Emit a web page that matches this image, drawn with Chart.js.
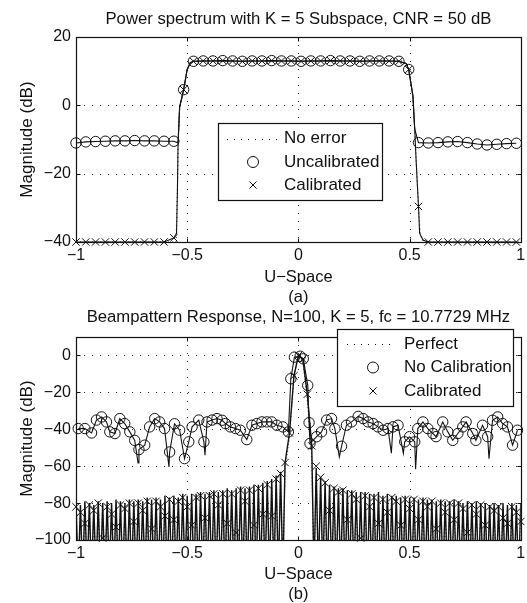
<!DOCTYPE html>
<html lang="en">
<head>
<meta charset="UTF-8">
<title>Power spectrum and beampattern</title>
<style>
  html, body { margin: 0; padding: 0; background: #fff; overflow: hidden; }
  #wrap { position: relative; width: 527px; height: 603px; }
  #top, #bottom { position: absolute; left: 0; }
  #top { top: 0; }
  #bottom { top: 303px; }
</style>
</head>
<body>
<div id="wrap">
  <canvas id="top" width="527" height="307"></canvas>
  <canvas id="bottom" width="527" height="303"></canvas>
</div>
<script src="https://cdn.jsdelivr.net/npm/chart.js"></script>
<script>
// ---------- panel (a): power spectrum ----------
const specU = [-1.000, -0.956, -0.912, -0.868, -0.824, -0.780, -0.736, -0.692, -0.648, -0.604,
  -0.560, -0.516, -0.472, -0.428, -0.384, -0.340, -0.296, -0.252, -0.208, -0.164, -0.120, -0.076,
  -0.032, 0.012, 0.056, 0.100, 0.144, 0.188, 0.232, 0.276, 0.320, 0.364, 0.408, 0.452, 0.496,
  0.540, 0.584, 0.628, 0.672, 0.716, 0.760, 0.804, 0.848, 0.892, 0.936, 0.980];
const uncalSpecDb = [-11.0, -10.7, -10.6, -10.5, -10.4, -10.4, -10.3, -10.4, -10.4, -10.5,
  -10.5, 4.6, 12.9, 13.0, 13.0, 13.1, 13.0, 12.9, 13.0, 13.0, 13.1, 13.0, 13.0, 12.9, 13.0,
  13.0, 13.1, 13.0, 13.0, 12.9, 13.0, 13.0, 13.0, 12.9, 10.5,
  -10.9, -11.0, -10.9, -10.7, -10.6, -10.9, -11.3, -11.6, -11.4, -11.2, -11.1];
const calSpecDb = [-40, -40, -40, -40, -40, -40, -40, -40, -40, -40,
  -38.8, 4.6, 12.9, 13.0, 13.0, 13.1, 13.0, 12.9, 13.0, 13.0, 13.1, 13.0, 13.0, 12.9, 13.0,
  13.0, 13.1, 13.0, 13.0, 12.9, 13.0, 13.0, 13.0, 12.9, 10.5,
  -29.6, -40, -40, -40, -40, -40, -40, -40, -40, -40, -40];
// steep band edges of the solid curve
const leftEdgeU = [-0.548, -0.544, -0.541, -0.534, -0.516, -0.500, -0.486];
const leftEdgeDb = [-37.5, -25, -11, -0.5, 4.6, 10.5, 12.5];
const rightEdgeU = [0.485, 0.496, 0.515, 0.523, 0.530, 0.540, 0.545, 0.560];
const rightEdgeDb = [12.2, 10.5, 2.7, -7, -17, -29.6, -37.4, -39.4];
const noErrU = [-1, -0.55, -0.544, -0.541, -0.534, -0.516, -0.5, -0.486, -0.47, 0.47, 0.485,
  0.496, 0.515, 0.523, 0.53, 0.54, 0.548, 0.565, 1];
const noErrDb = [-40, -40, -25, -11, -0.5, 4.6, 10.5, 12.5, 13, 13, 12.2, 10.5, 2.7, -7, -17,
  -29.6, -38, -40, -40];
const specXTicks = [-1, -0.5, 0, 0.5, 1];
const specYTicks = [-40, -20, 0, 20];

// ---------- panel (b): beampattern ----------
const beamU = [-1.00, -0.98, -0.96, -0.94, -0.92, -0.90, -0.88, -0.86, -0.84, -0.82, -0.80, -0.78,
  -0.76, -0.74, -0.72, -0.70, -0.68, -0.66, -0.64, -0.62, -0.60, -0.58, -0.56, -0.54, -0.52, -0.50,
  -0.48, -0.46, -0.44, -0.42, -0.40, -0.38, -0.36, -0.34, -0.32, -0.30, -0.28, -0.26, -0.24, -0.22,
  -0.20, -0.18, -0.16, -0.14, -0.12, -0.10, -0.08, -0.06, -0.04, -0.02, 0, 0.02, 0.04, 0.06, 0.08,
  0.10, 0.12, 0.14, 0.16, 0.18, 0.20, 0.22, 0.24, 0.26, 0.28, 0.30, 0.32, 0.34, 0.36, 0.38, 0.40,
  0.42, 0.44, 0.46, 0.48, 0.50, 0.52, 0.54, 0.56, 0.58, 0.60, 0.62, 0.64, 0.66, 0.68, 0.70, 0.72,
  0.74, 0.76, 0.78, 0.80, 0.82, 0.84, 0.86, 0.88, 0.90, 0.92, 0.94, 0.96, 0.98, 1.00];
// sidelobe tops of the calibrated response
const calPeakDb = [-80, -81, -79, -80, -81, -79, -80, -79, -80, -78,
  -79, -80, -78, -79, -78, -79, -77, -78, -77, -78,
  -76, -77, -76, -77, -75, -76, -75, -75, -74, -75,
  -74, -73, -74, -73, -72, -73, -72, -71, -72, -71,
  -70, -70, -69, -68, -67, -65, -63, -58, -42, -11,
  0,
  -2, -21, -49, -61, -66, -68, -70, -71, -72, -72,
  -73, -73, -74, -74, -74, -75, -75, -74, -76, -75,
  -76, -76, -77, -76, -77, -77, -78, -77, -78, -78,
  -79, -78, -79, -79, -78, -79, -80, -79, -80, -79,
  -80, -80, -81, -80, -81, -80, -81, -80, -81, -80];
// calibrated markers (x)
const calDb = [-82, -85, -91, -81, -84, -80, -99, -82, -86, -93,
  -81, -83, -80, -90, -80, -84, -79, -94, -79, -82,
  -87, -78, -89, -79, -77, -82, -92, -77, -76, -88,
  -76, -75, -81, -75, -91, -75, -96, -73, -79, -73,
  -92, -72, -86, -70, -87, -67, -64, -58, -42, -11,
  0,
  -2, -21, -49, -60, -66, -69, -84, -72, -74, -73,
  -89, -75, -78, -99, -76, -82, -77, -91, -78, -85,
  -77, -79, -92, -78, -83, -78, -89, -79, -82, -79,
  -94, -80, -85, -80, -89, -80, -83, -96, -81, -86,
  -81, -92, -82, -84, -82, -88, -91, -82, -85, -90];
const perfectPeakDb = [-83, -84, -82, -83, -84, -82, -83, -82, -83, -81,
  -82, -83, -81, -82, -81, -82, -80, -81, -80, -81,
  -79, -80, -79, -80, -78, -79, -78, -78, -77, -78,
  -77, -76, -77, -76, -75, -76, -75, -74, -75, -74,
  -73, -73, -72, -71, -70, -68, -66, -62, -44, -11,
  0,
  -3, -24, -55, -64, -69, -71, -73, -74, -75, -75,
  -76, -76, -77, -77, -77, -78, -78, -77, -79, -78,
  -79, -79, -80, -79, -80, -80, -81, -80, -81, -81,
  -82, -81, -82, -82, -81, -82, -83, -82, -83, -82,
  -83, -83, -84, -83, -84, -83, -84, -83, -84, -83];
const NULL_DB = -120; // depth of the pattern nulls, below the axis
// uncalibrated markers (o)
const noCalU = [-0.990, -0.960, -0.930, -0.908, -0.885, -0.863, -0.848, -0.825, -0.803, -0.781,
  -0.758, -0.736, -0.717, -0.691, -0.669, -0.646, -0.624, -0.602, -0.579, -0.557, -0.534, -0.512,
  -0.493, -0.478, -0.448, -0.425, -0.411, -0.388, -0.366, -0.343, -0.328, -0.306, -0.283, -0.261,
  -0.232, -0.209, -0.187, -0.164, -0.142, -0.120, -0.097, -0.070, -0.045, -0.034, -0.018, 0.008,
  0.022, 0.042, 0.048, 0.052, 0.082, 0.104, 0.127, 0.149, 0.164, 0.194, 0.216, 0.239, 0.269,
  0.291, 0.313, 0.336, 0.358, 0.381, 0.403, 0.425, 0.448, 0.478, 0.500, 0.523, 0.537, 0.560,
  0.582, 0.605, 0.619, 0.649, 0.672, 0.694, 0.717, 0.739, 0.754, 0.784, 0.798, 0.828, 0.851,
  0.873, 0.896, 0.918, 0.940, 0.963, 0.985];
const noCalDb = [-39.6, -39.6, -42.0, -35.0, -33.3, -36.0, -41.4, -42.3, -34.2, -36.9,
  -41.4, -46.0, -51.0, -48.6, -38.7, -34.2, -36.0, -39.6, -52.3, -37.0, -40.5, -55.9,
  -46.8, -38.7, -35.0, -46.8, -36.0, -35.0, -34.2, -35.1, -36.9, -38.7, -39.6, -40.5,
  -45.6, -37.8, -36.9, -36.0, -36.0, -36.0, -37.8, -38.7, -41.4, -12.6, -0.9, -0.4,
  -1.8, -16.2, -36.4, -47.7, -44.0, -41.4, -35.0, -34.2, -39.6, -49.2, -37.8, -36.0, -33.0,
  -34.2, -36.0, -36.9, -38.7, -40.5, -39.6, -38.7, -37.8, -46.8, -44.0, -46.8, -39.6, -36.0,
  -39.6, -42.3, -44.0, -36.0, -41.4, -46.0, -42.3, -38.7, -36.0, -42.3, -46.0, -37.8, -44.0,
  -35.1, -33.3, -36.9, -38.7, -48.6, -40.5];
// narrow dips of the uncalibrated curve between markers
const noCalDipU = [-0.721, -0.582, -0.420, 0.184, 0.418, 0.472, 0.527, 0.857];
const noCalDipDb = [-58.2, -60.4, -54.0, -55.0, -53.0, -53.0, -61.6, -55.9];
const beamXTicks = [-1, -0.5, 0, 0.5, 1];
const beamYTicks = [-100, -80, -60, -40, -20, 0];

const INK = '#111';
const FONT = "'Liberation Sans', Arial, Helvetica, sans-serif";
Chart.defaults.font.family = FONT;
Chart.defaults.color = INK;

const minus = v => (v < 0 ? '\u2212' : '') + Math.abs(v);
const xy = (us, ds) => us.map((u, i) => ({x: u, y: ds[i]}));

// marker line + the steep edges, for one series of panel (a)
function spectrumLine(markDb) {
  const lo = markDb[0] - 1, hi = markDb[markDb.length - 1] - 1;
  const pts = xy(specU, markDb);
  leftEdgeU.forEach((u, i) => { if (leftEdgeDb[i] >= lo) pts.push({x: u, y: leftEdgeDb[i]}); });
  rightEdgeU.forEach((u, i) => { if (rightEdgeDb[i] >= hi) pts.push({x: u, y: rightEdgeDb[i]}); });
  return pts.sort((a, b) => a.x - b.x);
}

// sidelobes with a null between neighbouring samples
function combLine(peakDb) {
  const pts = [];
  beamU.forEach((u, i) => {
    pts.push({x: u, y: peakDb[i]});
    const next = beamU[i + 1];
    if (next !== undefined && Math.abs(u) >= 0.06 && Math.abs(next) >= 0.06) {
      pts.push({x: (u + next) / 2, y: NULL_DB});
    }
  });
  return pts;
}

const noCalLine = xy(noCalU, noCalDb).concat(xy(noCalDipU, noCalDipDb)).sort((a, b) => a.x - b.x);

const matlabAxes = {
  id: 'matlabAxes',
  beforeDatasetsDraw(chart) {
    const {ctx, chartArea: a, scales: {x, y}} = chart;
    ctx.save();
    ctx.strokeStyle = '#2a2a2a';
    ctx.lineWidth = 1;
    ctx.setLineDash([1, 7]);
    ctx.beginPath();
    x.ticks.forEach(t => {
      if (t.value <= x.min || t.value >= x.max) return;
      const px = Math.round(x.getPixelForValue(t.value)) + 0.5;
      ctx.moveTo(px, a.top); ctx.lineTo(px, a.bottom);
    });
    y.ticks.forEach(t => {
      if (t.value <= y.min || t.value >= y.max) return;
      const py = Math.round(y.getPixelForValue(t.value)) + 0.5;
      ctx.moveTo(a.left, py); ctx.lineTo(a.right, py);
    });
    ctx.stroke();
    ctx.restore();
  },
  afterDatasetsDraw(chart) {
    const {ctx, chartArea: a, scales: {x, y}} = chart;
    const l = Math.round(a.left) + 0.5, r = Math.round(a.right) + 0.5;
    const t = Math.round(a.top) + 0.5, b = Math.round(a.bottom) + 0.5;
    ctx.save();
    ctx.strokeStyle = INK;
    ctx.lineWidth = 1.2;
    ctx.strokeRect(l, t, r - l, b - t);
    ctx.lineWidth = 1;
    ctx.beginPath();
    x.ticks.forEach(tk => {
      const px = Math.round(x.getPixelForValue(tk.value)) + 0.5;
      ctx.moveTo(px, b); ctx.lineTo(px, b - 4);
      ctx.moveTo(px, t); ctx.lineTo(px, t + 4);
    });
    y.ticks.forEach(tk => {
      const py = Math.round(y.getPixelForValue(tk.value)) + 0.5;
      ctx.moveTo(l, py); ctx.lineTo(l + 4, py);
      ctx.moveTo(r, py); ctx.lineTo(r - 4, py);
    });
    ctx.stroke();
    ctx.restore();
  },
  afterDraw(chart, args, opts) {
    const L = opts.legend;
    if (!L) return;
    const {ctx} = chart;
    ctx.save();
    ctx.fillStyle = '#fff';
    ctx.fillRect(L.left, L.top, L.width, L.height);
    ctx.strokeStyle = INK;
    ctx.lineWidth = 1.2;
    ctx.strokeRect(L.left + 0.5, L.top + 0.5, L.width, L.height);
    ctx.font = '17px ' + FONT;
    ctx.textBaseline = 'middle';
    ctx.fillStyle = INK;
    L.rows.forEach((row, i) => {
      const yy = L.rowY[i];
      ctx.lineWidth = 1;
      ctx.beginPath();
      if (row.mark === 'dotted') {
        ctx.setLineDash([1, 6]);
        ctx.moveTo(L.lineX0, Math.round(yy) + 0.5);
        ctx.lineTo(L.lineX1, Math.round(yy) + 0.5);
      } else if (row.mark === 'circle') {
        ctx.setLineDash([]);
        ctx.arc(L.markX, yy, 5.5, 0, Math.PI * 2);
      } else {
        ctx.setLineDash([]);
        ctx.moveTo(L.markX - 3.5, yy - 3.5); ctx.lineTo(L.markX + 3.5, yy + 3.5);
        ctx.moveTo(L.markX - 3.5, yy + 3.5); ctx.lineTo(L.markX + 3.5, yy - 3.5);
      }
      ctx.stroke();
      ctx.fillText(row.text, L.textX, yy);
    });
    ctx.restore();
  }
};

const markers = (pts, style, label) => ({
  label, data: pts, showLine: false, clip: false,
  pointStyle: style, pointRadius: style === 'circle' ? 5.2 : 5.2, pointHoverRadius: 0,
  pointBorderWidth: 1, pointBorderColor: INK, pointBackgroundColor: 'rgba(0,0,0,0)'
});
const curve = (pts, label, dash, width) => ({
  label, data: pts, showLine: true, pointRadius: 0, pointHoverRadius: 0,
  borderColor: dash ? '#333' : INK, borderWidth: width || 1.1, borderDash: dash || [], tension: 0
});

function axes(xTicks, yTicks, yMin, yMax, xTitle, xHeight, xTitlePad) {
  return {
    x: {
      type: 'linear', min: -1, max: 1,
      afterBuildTicks: s => { s.ticks = xTicks.map(v => ({value: v})); },
      afterFit: s => { s.height = xHeight; s.paddingLeft = 0; s.paddingRight = 0; },
      grid: {display: false, drawTicks: false},
      border: {display: false},
      ticks: {padding: 4, font: {size: 16}, color: INK, callback: minus, maxRotation: 0, autoSkip: false},
      title: {display: true, text: xTitle, color: INK, font: {size: 16.5, lineHeight: 1.2},
        padding: {top: 0, bottom: xTitlePad}}
    },
    y: {
      type: 'linear', min: yMin, max: yMax,
      afterBuildTicks: s => { s.ticks = yTicks.map(v => ({value: v})); },
      afterFit: s => { s.width = 76; },
      grid: {display: false, drawTicks: false},
      border: {display: false},
      ticks: {padding: 5, font: {size: 16}, color: INK, callback: minus, autoSkip: false},
      title: {display: true, text: 'Magnitude (dB)', color: INK, font: {size: 17, lineHeight: 1.2},
        padding: {top: 17, bottom: 0}}
    }
  };
}

new Chart(document.getElementById('top'), {
  type: 'scatter',
  data: {
    datasets: [
      markers(xy(specU, calSpecDb), 'crossRot', 'Calibrated'),
      markers(xy(specU, uncalSpecDb), 'circle', 'Uncalibrated'),
      curve(spectrumLine(calSpecDb), 'Calibrated curve'),
      curve(spectrumLine(uncalSpecDb), 'Uncalibrated curve'),
      curve(xy(noErrU, noErrDb), 'No error', [1, 3])
    ]
  },
  options: {
    responsive: false, animation: false, events: [],
    layout: {padding: {left: 0, right: 4, top: 0, bottom: 0}},
    scales: axes(specXTicks, specYTicks, -40, 20, ['U\u2212Space', '(a)'], 65, 0),
    plugins: {
      legend: {display: false},
      tooltip: {enabled: false},
      title: {display: true, fullSize: false, text: 'Power spectrum with K = 5 Subspace, CNR = 50 dB',
        color: INK, font: {size: 16.7, weight: 'normal', lineHeight: 1.2}, padding: {top: 9, bottom: 8}},
      matlabAxes: {legend: {
        left: 218, top: 123, width: 164, height: 77,
        markX: 253, lineX0: 227, lineX1: 277, textX: 284, rowY: [138.5, 162, 185],
        rows: [{text: 'No error', mark: 'dotted'}, {text: 'Uncalibrated', mark: 'circle'},
          {text: 'Calibrated', mark: 'cross'}]
      }}
    }
  },
  plugins: [matlabAxes]
});

new Chart(document.getElementById('bottom'), {
  type: 'scatter',
  data: {
    datasets: [
      markers(xy(beamU, calDb), 'crossRot', 'Calibrated'),
      markers(xy(noCalU, noCalDb), 'circle', 'No Calibration'),
      curve(combLine(calPeakDb), 'Calibrated curve', null, 1.4),
      curve(noCalLine, 'No Calibration curve'),
      curve(combLine(perfectPeakDb), 'Perfect', [1, 2.5])
    ]
  },
  options: {
    responsive: false, animation: false, events: [],
    layout: {padding: {left: 0, right: 4, top: 0, bottom: 0}},
    scales: axes(beamXTicks, beamYTicks, -100, 10, ['U\u2212Space', '(b)'], 66, 2),
    plugins: {
      legend: {display: false},
      tooltip: {enabled: false},
      title: {display: true, fullSize: false, text: 'Beampattern Response, N=100, K = 5, fc = 10.7729 MHz',
        color: INK, font: {size: 16.7, weight: 'normal', lineHeight: 1.2}, padding: {top: 4, bottom: 10}},
      matlabAxes: {legend: {
        left: 337, top: 26, width: 176, height: 77,
        markX: 373, lineX0: 347, lineX1: 393, textX: 404, rowY: [41, 64.5, 88],
        rows: [{text: 'Perfect', mark: 'dotted'}, {text: 'No Calibration', mark: 'circle'},
          {text: 'Calibrated', mark: 'cross'}]
      }}
    }
  },
  plugins: [matlabAxes]
});
</script>
</body>
</html>
